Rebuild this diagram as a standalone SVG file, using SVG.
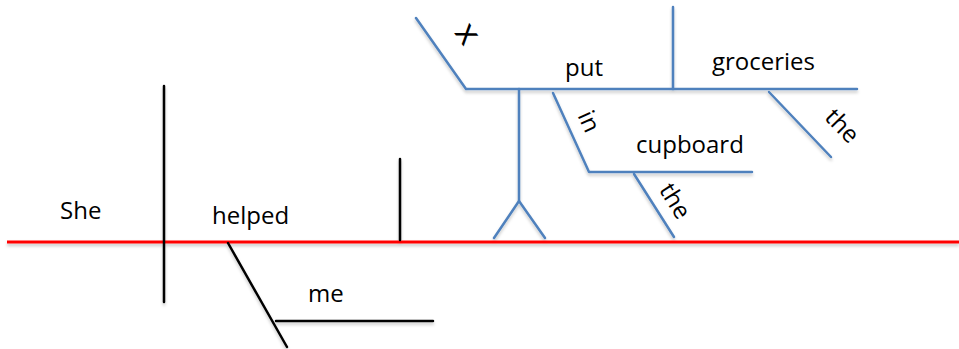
<svg xmlns="http://www.w3.org/2000/svg" width="959" height="349" viewBox="0 0 959 349">
<defs>
<filter id="sh" x="-10%" y="-10%" width="120%" height="130%">
<feDropShadow dx="0" dy="2.5" stdDeviation="1.5" flood-color="#000" flood-opacity="0.22"/>
</filter>
</defs>
<style>
.k{stroke:#000;stroke-width:2.5;fill:none;stroke-linecap:round}
.b{stroke:#4F81BD;stroke-width:2.5;fill:none;stroke-linecap:round;stroke-linejoin:round}
.r{stroke:#FF0000;stroke-width:3;fill:none}
text{font-family:"Open Sans","Liberation Sans",sans-serif;font-size:24px;fill:#000}
.c{text-anchor:middle}
.big{font-size:34px}
</style>
<rect width="959" height="349" fill="#fff"/>
<g id="connectors" filter="url(#sh)">
<line class="r" x1="7" y1="242" x2="959" y2="242"/>
<line class="k" x1="164" y1="86" x2="164" y2="302"/>
<line class="k" x1="400" y1="159" x2="400" y2="240"/>
<line class="k" x1="228" y1="243" x2="287" y2="347"/>
<line class="k" x1="276" y1="321" x2="433" y2="321"/>
<polyline class="b" points="416,18 466,89 857,89"/>
<polyline class="b" points="519,89 519,201 494,238"/>
<line class="b" x1="519" y1="201" x2="545" y2="238"/>
<line class="b" x1="673" y1="7" x2="673" y2="89"/>
<polyline class="b" points="553,93 589,172 752,172"/>
<line class="b" x1="634" y1="174" x2="674" y2="237"/>
<line class="b" x1="769" y1="92" x2="831" y2="157"/>
</g>
<g id="she"><text x="60" y="219">She</text></g>
<g id="helped"><text x="212" y="224">helped</text></g>
<g id="me"><text x="308" y="302">me</text></g>
<g id="x"><text class="c big" transform="translate(467,34) rotate(55)" y="10">x</text></g>
<g id="put"><text x="565" y="76">put</text></g>
<g id="groceries"><text x="712" y="70">groceries</text></g>
<g id="in"><text class="c" transform="translate(588,122) rotate(65)" y="7">in</text></g>
<g id="cupboard"><text x="636" y="153">cupboard</text></g>
<g id="the1"><text class="c" transform="translate(842,126) rotate(46)" y="8">the</text></g>
<g id="the2"><text class="c" transform="translate(675,201) rotate(58)" y="8">the</text></g>
</svg>
